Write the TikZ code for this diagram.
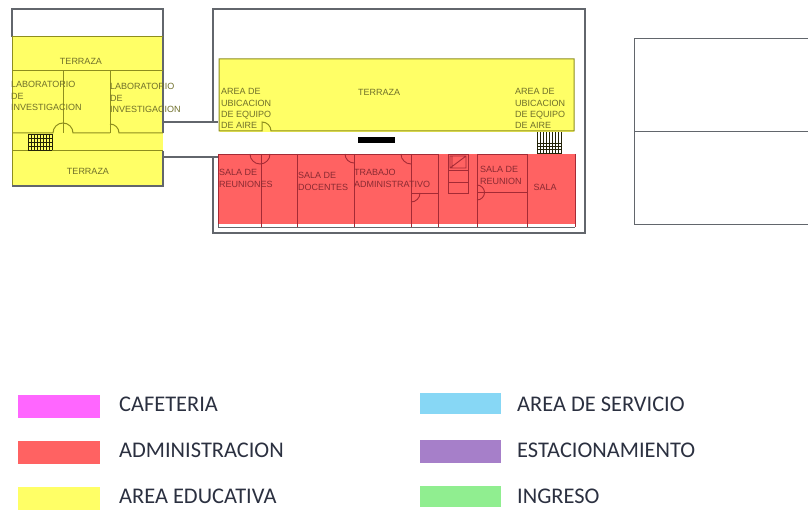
\documentclass[tikz,border=0pt]{standalone}
\usepackage{fontspec}
\setmainfont{Liberation Sans}
\newfontfamily\legendfont{Carlito}
\definecolor{eduY}{HTML}{FFFF66}
\definecolor{admR}{HTML}{FF6262}
\definecolor{cafM}{HTML}{FF66FF}
\definecolor{srvB}{HTML}{87D7F5}
\definecolor{estP}{HTML}{A67FC9}
\definecolor{ingG}{HTML}{90EE90}
\definecolor{wallG}{HTML}{62666C}
\definecolor{oliveL}{HTML}{8E8E1E}
\definecolor{oliveT}{HTML}{6F6F2A}
\definecolor{redL}{HTML}{A52A35}
\definecolor{redT}{HTML}{8A2A32}
\definecolor{legT}{HTML}{2B3040}
\tikzset{
  wall/.style={draw=wallG,line width=1.1pt},
  yline/.style={draw=oliveL,line width=1pt},
  rline/.style={draw=redL,line width=0.9pt},
  ylab/.style={inner sep=0pt,align=left,anchor=north west,font=\fontsize{9}{11.3}\selectfont,text=oliveT},
  rlab/.style={inner sep=0pt,align=left,anchor=north west,font=\fontsize{9}{11.8}\selectfont,text=redT},
  swatch/.style={draw=none,minimum width=82pt,minimum height=23pt,inner sep=0pt,anchor=north west},
  legtext/.style={inner sep=0pt,anchor=west,font=\legendfont\fontsize{22.4}{24}\selectfont,text=legT},
  hatch/.style={draw=black!75!oliveL,line width=0.6pt}
}
\begin{document}
\begin{tikzpicture}[x=1pt,y=-1pt]
\useasboundingbox (0,0) rectangle (808,510);
% left building
\draw[wall] (12,37) -- (12,9) -- (163,9) -- (163,37);
\fill[eduY] (12,37) rectangle (163,186);
\draw[yline] (12,37) -- (12,186);
\draw[wall] (12,186) -- (163,186) -- (163,151);
\draw[wall] (163,37) -- (163,133);
\draw[yline] (12,37) -- (163,37);
\draw[yline] (12,71) -- (163,71);
\draw[yline] (63,71) -- (63,133);
\draw[yline] (110,71) -- (110,133);
\draw[yline] (12,133) -- (53,133) arc[start angle=180,end angle=360,radius=10] -- (110,133);
\draw[yline] (110,124) arc[start angle=-90,end angle=0,radius=9] -- (163,133);
\draw[yline] (12,151) -- (163,151);
\foreach \xx in {28,31,34,37,40,43,46,49,52}{\draw[hatch] (\xx,134) -- (\xx,150);}
\foreach \yy in {134,138,142,146,150}{\draw[hatch] (28,\yy) -- (52,\yy);}
\node[ylab,anchor=center] (t1) at (81,61) {TERRAZA};
\node[ylab,anchor=center] (t2) at (88,171) {TERRAZA};
\node[ylab] (lab1) at (11,81.5) {LABORATORIO\\DE\\INVESTIGACION};
\node[ylab] (lab2) at (110,83.5) {LABORATORIO\\DE\\INVESTIGACION};
% middle building
\draw[wall] (213,122) -- (213,9) -- (585,9) -- (585,233) -- (213,233) -- (213,157);
\fill[eduY,rounded corners=1pt] (219,59) rectangle (574,132);
\draw[yline] (219,131) -- (219,59) -- (574,59) -- (574,131) -- (271,131) arc[start angle=0,end angle=-90,radius=9] -- (262,131) -- cycle;
\fill[admR] (218,154) rectangle (575,224);
\draw[rline] (218,154) -- (438,154);
\draw[rline] (448,154) -- (468,154);
\draw[rline] (477,154) -- (527,154);
\draw[rline] (575,154) -- (575,227);
\draw[rline] (218,154) -- (218,224);
\draw[wallG,line width=.8pt] (218,224) -- (218,227) -- (575,227);
\foreach \xx in {261,297,354,411,438,477,527}{\draw[rline] (\xx,154) -- (\xx,227);}
% doors
\draw[rline] (250,154) arc[start angle=180,end angle=0,radius=10];
\draw[rline] (345,154) arc[start angle=180,end angle=90,radius=9];
\draw[rline] (401,154) arc[start angle=180,end angle=90,radius=10];
\draw[rline] (411,193) -- (438,193);
\draw[rline] (420,193) arc[start angle=0,end angle=90,radius=9];
\draw[rline] (477,192) -- (527,192);
\draw[rline] (477,185) arc[start angle=-90,end angle=90,radius=7.5];
% lift and stair core
\draw[rline] (448,154) rectangle (468,170);
\draw[rline] (450,156) rectangle (466,168) (450,168) -- (466,156) (452,156) -- (452,168);
\draw[rline] (448,170) -- (448,193) -- (468,193) -- (468,170);
\draw[rline] (448,182) -- (468,182);
\fill[black] (358,137) rectangle (395,143);
\foreach \xx in {537,540,543,546,549,552,555,558,561}{\draw[hatch] (\xx,132) -- (\xx,153);}
\foreach \yy in {143,146,149,153}{\draw[hatch] (537,\yy) -- (562,\yy);}
\node[ylab] (a1) at (221,88.5) {AREA DE\\UBICACION\\DE EQUIPO\\DE AIRE};
\node[ylab,anchor=center] (t3) at (379,92) {TERRAZA};
\node[ylab] (a2) at (515,88.5) {AREA DE\\UBICACION\\DE EQUIPO\\DE AIRE};
\node[rlab] (r1) at (219,169.5) {SALA DE\\REUNIONES};
\node[rlab] (r2) at (298,172.5) {SALA DE\\DOCENTES};
\node[rlab] (r3) at (354,169.5) {TRABAJO\\ADMINISTRATIVO};
\node[rlab] (r4) at (480,166.5) {SALA DE\\REUNION};
\node[rlab,anchor=center] (r5) at (545,187) {SALA};
% connectors between buildings
\coordinate (c1a) at (163,122);
\coordinate (c1b) at (218,122);
\coordinate (c2a) at (163,157);
\coordinate (c2b) at (218,157);
\draw[wall] (c1a) -- (c1b);
\draw[wall] (c2a) -- (c2b);
% right building
\draw[wall,line width=.9pt] (808,38) -- (634,38) -- (634,224) -- (808,224);
\draw[wall,line width=.9pt] (634,131) -- (808,131);
% legend
\node[swatch,fill=cafM] (s1) at (18,395) {};
\node[swatch,fill=admR] (s2) at (18,441) {};
\node[swatch,fill=eduY] (s3) at (18,487) {};
\node[swatch,fill=srvB,minimum width=81pt,minimum height=21pt] (s4) at (420,393) {};
\node[swatch,fill=estP,minimum width=81pt] (s5) at (420,440) {};
\node[swatch,fill=ingG,minimum width=81pt,minimum height=21pt] (s6) at (420,486) {};
\node[legtext] (l1) at (119,404) {CAFETERIA};
\node[legtext] (l2) at (119,450) {ADMINISTRACION};
\node[legtext] (l3) at (119,496) {AREA EDUCATIVA};
\node[legtext] (l4) at (517,404) {AREA DE SERVICIO};
\node[legtext] (l5) at (517,450) {ESTACIONAMIENTO};
\node[legtext] (l6) at (517,496) {INGRESO};
\end{tikzpicture}
\end{document}
